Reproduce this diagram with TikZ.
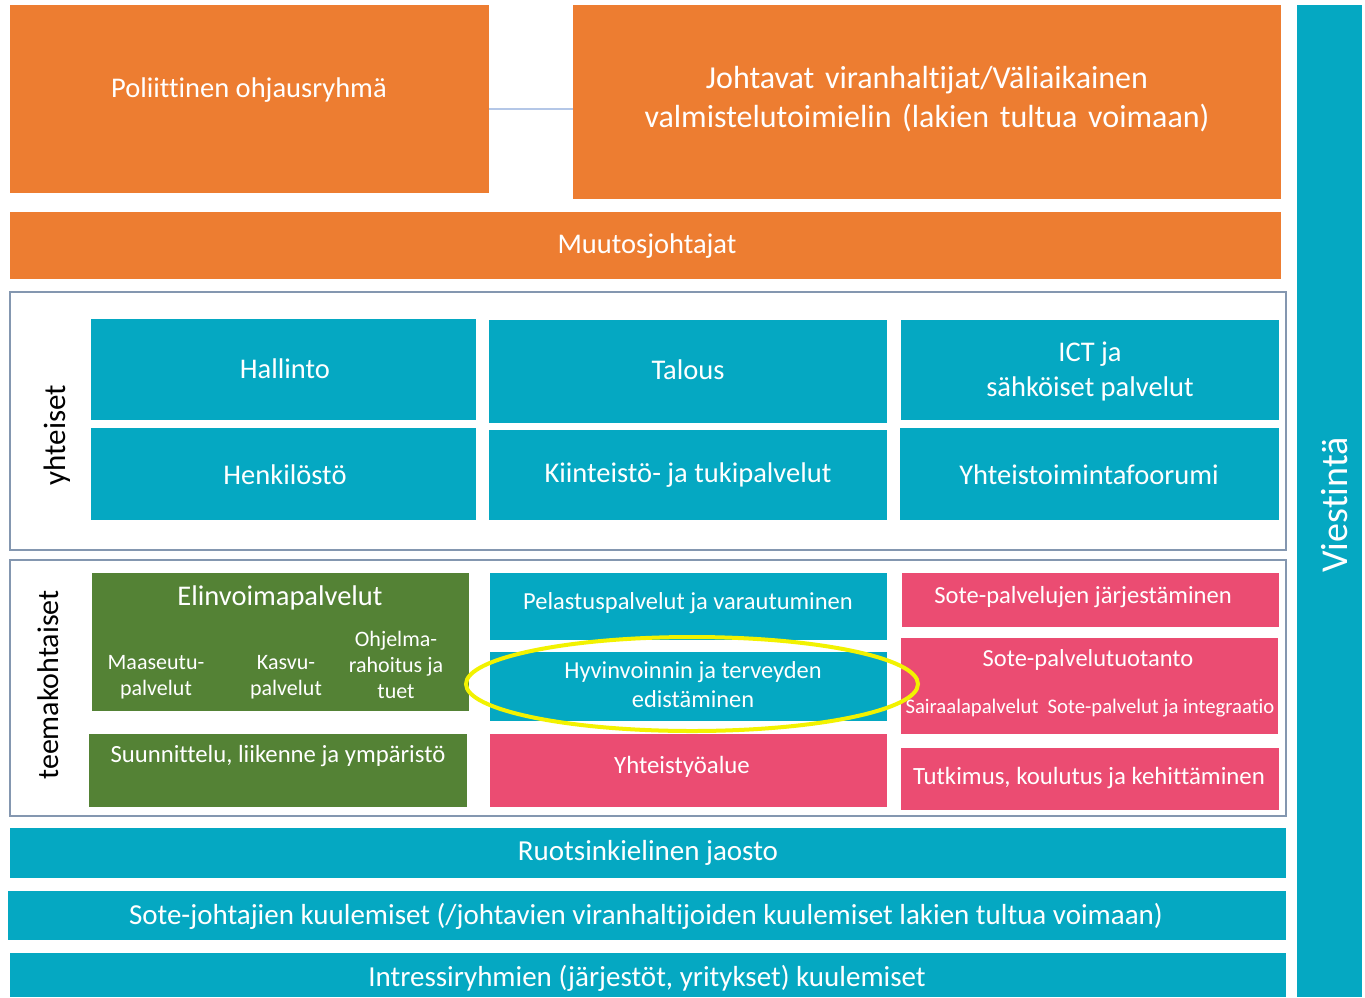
\documentclass[tikz,border=0pt]{standalone}
\usepackage{fontspec}
\setmainfont{Carlito}[Ligatures={NoCommon}]
\usetikzlibrary{fit}
\definecolor{orng}{HTML}{ED7D31}
\definecolor{cyn}{HTML}{05A8C2}
\definecolor{grn}{HTML}{548235}
\definecolor{pnk}{HTML}{EB4C72}
\definecolor{frm}{HTML}{8497B0}
\definecolor{ylw}{HTML}{F2F200}
\definecolor{conn}{HTML}{B4C7E7}
\newcommand{\fs}[2]{\fontsize{#1}{#2}\selectfont}
\tikzset{
  blk/.style={inner sep=0pt, outer sep=0pt, draw=none},
  txt/.style={text=white, inner sep=0pt, align=center, font=\fs{28.5}{32}},
  frame/.style={draw=frm, line width=2pt, fill=white, inner sep=0pt},
}
\newcommand{\blk}[6]{\node[blk, fill=#6, fit={(#2,#3)(#4,#5)}] (#1) {};}
\begin{document}
\begin{tikzpicture}[x=1pt,y=-1pt]
\useasboundingbox[fill=white] (0,0) rectangle (1365,997);
% top
\blk{pol}{10}{5}{489}{193}{orng}
\blk{joh}{573}{5}{1281}{199}{orng}
\draw[conn, line width=2pt] (pol.east |- 0,109) -- (joh.west |- 0,109);
\node[txt] (poltxt) at (249,90) {Poliittinen ohjausryhmä};
\node[txt, font=\fs{32}{39}, text width=700pt] (johtxt) at (927,99) {Johtavat viranhaltijat/Väliaikainen\\valmistelutoimielin (lakien tultua voimaan)};
\blk{muu}{10}{212}{1281}{279}{orng}
\node[txt] (muutxt) at (647,246) {Muutosjohtajat};
% yhteiset frame
\node[frame, fit={(10,292)(1286,550)}] (yht) {};
\node[rotate=90, font=\fs{31}{36}, inner sep=0pt] (yhtlbl) at (57,435) {yhteiset};
\blk{hal}{91}{319}{476}{420}{cyn}
\blk{tal}{489}{320}{887}{423}{cyn}
\blk{ict}{901}{320}{1279}{420}{cyn}
\blk{hen}{91}{428}{476}{520}{cyn}
\blk{kii}{489}{430}{887}{520}{cyn}
\blk{yto}{900}{428}{1279}{520}{cyn}
\node[txt] (haltxt) at (285,369) {Hallinto};
\node[txt] (taltxt) at (688,370) {Talous};
\node[txt, font=\fs{28.5}{35}] (icttxt) at (1090,371) {ICT ja\\sähköiset palvelut};
\node[txt] (hentxt) at (285,475) {Henkilöstö};
\node[txt] (kiitxt) at (688,475) {Kiinteistö- ja tukipalvelut};
\node[txt] (ytotxt) at (1089,475) {Yhteistoimintafoorumi};
% teemakohtaiset frame
\node[frame, fit={(10,560)(1286,816)}] (tee) {};
\node[rotate=90, font=\fs{30}{36}, inner sep=0pt] (teelbl) at (48,685) {teemakohtaiset};
\blk{eli}{92}{573}{469}{711}{grn}
\node[txt, font=\fs{28.5}{32}] (elitxt) at (280,598) {Elinvoimapalvelut};
\node[txt, font=\fs{22}{26}] (maa) at (156,677) {Maaseutu-\\palvelut};
\node[txt, font=\fs{22}{26}] (kas) at (286,677) {Kasvu-\\palvelut};
\node[txt, font=\fs{22}{26}] (ohj) at (396,665) {Ohjelma-\\rahoitus ja\\tuet};
\blk{suu}{89}{734}{467}{807}{grn}
\node[txt, font=\fs{24.7}{28}] (suutxt) at (278,756) {Suunnittelu, liikenne ja ympäristö};
\blk{pel}{490}{573}{887}{640}{cyn}
\node[txt, font=\fs{24.5}{28}] (peltxt) at (688,603) {Pelastuspalvelut ja varautuminen};
\blk{hyv}{490}{652}{887}{721}{cyn}
\node[txt, font=\fs{24.4}{29}] (hyvtxt) at (693,685) {Hyvinvoinnin ja terveyden\\edistäminen};
\blk{ytt}{490}{734}{887}{807}{pnk}
\node[txt, font=\fs{24.8}{28}] (ytttxt) at (682,767) {Yhteistyöalue};
\blk{sj}{902}{573}{1279}{627}{pnk}
\node[txt, font=\fs{24.6}{28}] (sjtxt) at (1083,597) {Sote-palvelujen järjestäminen};
\blk{spt}{901}{638}{1278}{734}{pnk}
\node[txt, font=\fs{24.5}{28}] (spttxt) at (1088,660) {Sote-palvelutuotanto};
\node[txt, font=\fs{20.7}{24}] (sair) at (972,708) {Sairaalapalvelut};
\node[txt, font=\fs{20.7}{24}] (sint) at (1161,708) {Sote-palvelut ja integraatio};
\blk{tut}{901}{748}{1279}{810}{pnk}
\node[txt, font=\fs{24.8}{28}] (tuttxt) at (1089,778) {Tutkimus, koulutus ja kehittäminen};
% yellow ellipse
\draw[ylw, line width=4pt] (692,684) ellipse [x radius=226, y radius=47];
% bottom rows
\blk{ruo}{10}{828}{1286}{878}{cyn}
\node[txt, font=\fs{29}{32}] (ruotxt) at (648,853) {Ruotsinkielinen jaosto};
\blk{sot}{8}{891}{1286}{940}{cyn}
\node[txt, font=\fs{29}{32}] (sottxt) at (646,916) {Sote-johtajien kuulemiset (/johtavien viranhaltijoiden kuulemiset lakien tultua voimaan)};
\blk{int}{10}{953}{1286}{997}{cyn}
\node[txt, font=\fs{29}{32}] (inttxt) at (647,978) {Intressiryhmien (järjestöt, yritykset) kuulemiset};
% Viestinta
\blk{vie}{1297}{5}{1362}{997}{cyn}
\node[txt, rotate=90, font=\fs{38}{42}] (vietxt) at (1335,505) {Viestintä};
\end{tikzpicture}
\end{document}
